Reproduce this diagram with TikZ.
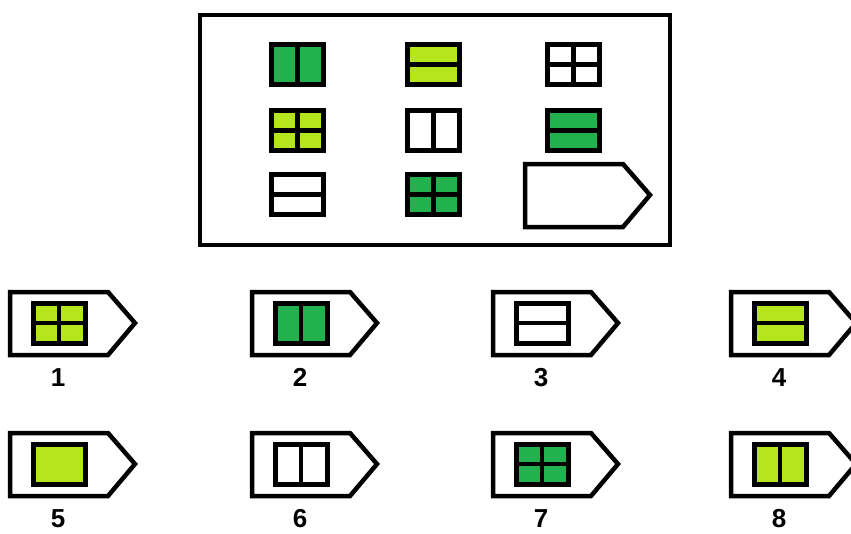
\documentclass[tikz,border=0pt]{standalone}
\usepackage{fontspec}
\setmainfont{Liberation Sans}
\usepackage{xcolor}
\usepackage{tikz}
\definecolor{paintgreen}{HTML}{22B14C}
\definecolor{paintlime}{HTML}{B5E61D}
\tikzset{
  tile/.style={draw=black, line width=5pt, minimum width=52pt, minimum height=40pt,
               inner sep=0pt},
  split/.style={line width=4.5pt, draw=black},
  badge/.style={draw=black, line width=4.5pt, line join=miter, fill=white},
  board/.style={draw=black, line width=4pt, minimum width=470pt, minimum height=230pt},
  numlbl/.style={font=\fontsize{26}{26}\selectfont\bfseries, inner sep=0pt,
                 text height=19pt, text depth=0pt},
}
\newcommand{\vdivide}[1]{\draw[split] (#1.north) -- (#1.south);}
\newcommand{\hdivide}[1]{\draw[split] (#1.west) -- (#1.east);}
\newcommand{\qdivide}[1]{\vdivide{#1}\hdivide{#1}}
% answer plate: top left corner, then the arrow point
\newcommand{\plate}[2]{%
  \coordinate (#1) at (#2);
  \draw[badge] (#1) -- ++(98,0) -- ++(27,31) -- ++(-27,32) -- ++(-98,0) -- cycle;}

\begin{document}
\begin{tikzpicture}[x=1pt, y=-1pt]
  \path[use as bounding box, clip] (0,0) rectangle (851,533);
  \fill[white] (0,0) rectangle (851,533);

  % the puzzle board
  \node[board] (frame) at (435,130) {};
  \node[tile, fill=paintgreen] (g11) at (297.5,64.5) {}; \vdivide{g11}
  \node[tile, fill=paintlime]  (g12) at (433.5,64.5) {}; \hdivide{g12}
  \node[tile, fill=white]      (g13) at (573.5,64.5) {}; \qdivide{g13}
  \node[tile, fill=paintlime]  (g21) at (297.5,130.5) {}; \qdivide{g21}
  \node[tile, fill=white]      (g22) at (433.5,130.5) {}; \vdivide{g22}
  \node[tile, fill=paintgreen] (g23) at (573.5,130.5) {}; \hdivide{g23}
  \node[tile, fill=white]      (g31) at (297.5,194.5) {}; \hdivide{g31}
  \node[tile, fill=paintgreen] (g32) at (433.5,194.5) {}; \qdivide{g32}
  \plate{gap}{525,164}

  % the eight answers
  \foreach \n/\px/\py in {1/10/292, 2/252/292, 3/493/292, 4/731/292,
                          5/10/433, 6/252/433, 7/493/433, 8/731/433} {
    \plate{p\n}{\px,\py}
    \node[numlbl] (lbl\n) at ([shift={(48,85)}]p\n) {\n};
  }
  \node[tile, fill=paintlime]  (a1) at ([shift={(49,31)}]p1) {}; \qdivide{a1}
  \node[tile, fill=paintgreen] (a2) at ([shift={(49,31)}]p2) {}; \vdivide{a2}
  \node[tile, fill=white]      (a3) at ([shift={(49,31)}]p3) {}; \hdivide{a3}
  \node[tile, fill=paintlime]  (a4) at ([shift={(49,31)}]p4) {}; \hdivide{a4}
  \node[tile, fill=paintlime]  (a5) at ([shift={(49,31)}]p5) {};
  \node[tile, fill=white]      (a6) at ([shift={(49,31)}]p6) {}; \vdivide{a6}
  \node[tile, fill=paintgreen] (a7) at ([shift={(49,31)}]p7) {}; \qdivide{a7}
  \node[tile, fill=paintlime]  (a8) at ([shift={(49,31)}]p8) {}; \vdivide{a8}
\end{tikzpicture}
\end{document}
